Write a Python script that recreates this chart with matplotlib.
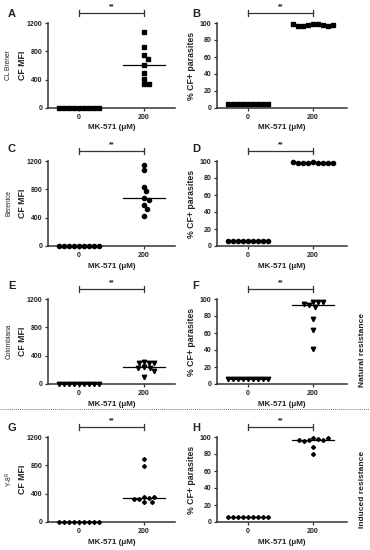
import matplotlib
matplotlib.use("Agg")
import matplotlib.pyplot as plt
import matplotlib.transforms as mtransforms
import numpy as np

plt.rcParams['font.family'] = ['Liberation Sans', 'DejaVu Sans']

# ---------------- data ----------------
doses = ['0', '200']
strains = ['CL Brener', 'Berenice', 'Colombiana', 'Y-8$^{\\mathrm{R}}$']
letters = ['A', 'B', 'C', 'D', 'E', 'F', 'G', 'H']

# CF MFI (left column)
mfi_clb_0 = [6, 5, 5, 6, 5, 5, 6, 5, 5]
mfi_clb_200 = [1068, 856, 744, 692, 612, 499, 414, 334, 336]
mfi_ber_0 = [6, 5, 5, 6, 5, 5, 6, 5, 5]
mfi_ber_200 = [1150, 1069, 836, 770, 672, 649, 584, 523, 420]
mfi_col_0 = [6, 5, 5, 6, 5, 5, 6, 5, 5]
mfi_col_200 = [315, 300, 295, 300, 240, 230, 225, 180, 100]
mfi_y8_0 = [6, 5, 5, 6, 5, 5, 6, 5, 5]
mfi_y8_200 = [895, 788, 360, 345, 330, 288, 285, 330, 355]

# % CF+ parasites (right column)
pct_clb_0 = [5.2, 5.0, 5.1, 5.0, 5.2, 5.1, 5.0, 5.2, 5.1]
pct_clb_200 = [99, 98.5, 98, 98, 97, 96, 97, 98, 98.5]
pct_ber_0 = [5.5, 5.4, 5.6, 5.5, 5.4, 5.5, 5.6, 5.5, 5.4]
pct_ber_200 = [98.5, 98, 98, 98, 98, 98, 98, 98, 98.5]
pct_col_0 = [5.5, 5.4, 5.6, 5.5, 5.4, 5.5, 5.6, 5.5, 5.4]
pct_col_200 = [96.5, 96, 93, 91, 94, 96, 76, 64, 41]
pct_y8_0 = [5.5, 5.4, 5.6, 5.5, 5.4, 5.5, 5.6, 5.5, 5.4]
pct_y8_200 = [99, 98, 96, 95.5, 96, 97, 99, 88, 80]

mfi_sets = [(mfi_clb_0, mfi_clb_200), (mfi_ber_0, mfi_ber_200),
            (mfi_col_0, mfi_col_200), (mfi_y8_0, mfi_y8_200)]
pct_sets = [(pct_clb_0, pct_clb_200), (pct_ber_0, pct_ber_200),
            (pct_col_0, pct_col_200), (pct_y8_0, pct_y8_200)]
markers = ['s', 'o', 'v', 'D']
msizes = [3.0, 3.0, 3.2, 2.0]

W, H = 370, 550
fig = plt.figure(figsize=(W / 100, H / 100), dpi=100)

row_top = [23, 161, 299, 437]
ax_h = 85
col_left = [48, 217]
col_w = [127, 130]
TXT = '#222222'


def swarm(vals, ymax, min_d=5.0):
    # simple beeswarm in pixel space
    ypx = np.array(vals, dtype=float) / ymax * ax_h
    placed = []
    xs = []
    cands = sorted(np.arange(-40, 40.5, 0.5), key=lambda v: (abs(v), -v))
    for y in ypx:
        for c in cands:
            if all((c - px) ** 2 + (y - py) ** 2 >= min_d ** 2 for px, py in placed):
                placed.append((c, y))
                xs.append(c)
                break
    return np.array(xs)


def panel(ax, data, ymax, yticks, marker, ms, ylabel, wpx):
    unit_px = 65.0  # pixels per category step
    for i, vals in enumerate(data):
        off = swarm(vals, ymax) / unit_px
        ax.plot(i + off, vals, linestyle='none', marker=marker, ms=ms,
                color='black', clip_on=False, zorder=3)
        med = np.median(vals)
        ax.plot([i - 0.33, i + 0.33], [med, med], color='black', lw=0.9,
                clip_on=False, zorder=2)
    ax.set_xlim(-0.477, (wpx - 31) / 65.0)
    ax.set_ylim(0, ymax)
    ax.set_yticks(yticks)
    ax.set_xticks([0, 1])
    ax.set_xticklabels(doses)
    for s in ['top', 'right']:
        ax.spines[s].set_visible(False)
    for s in ['left', 'bottom']:
        ax.spines[s].set_linewidth(1.1)
        ax.spines[s].set_color('#333333')
    ax.tick_params(length=2.5, width=0.9, labelsize=5, pad=1.5,
                   colors='#333333', labelcolor=TXT)
    for lab in ax.get_xticklabels() + ax.get_yticklabels():
        lab.set_fontweight('bold')
    ax.set_ylabel(ylabel, fontsize=6.3, fontweight='bold', color=TXT)
    ax.yaxis.set_label_coords(-21.0 / wpx, 0.5)
    ax.set_xlabel('MK-571 (\u03bcM)', fontsize=5.8, fontweight='bold', color=TXT)
    ax.xaxis.set_label_coords(0.5, -20.0 / ax_h)
    ax.xaxis.label.set_va('center')
    # significance bracket
    tr = mtransforms.blended_transform_factory(ax.transData, ax.transAxes)
    yb = 1 + 10.0 / ax_h
    tk = 3.0 / ax_h
    ax.plot([0, 1], [yb, yb], color='#333333', lw=0.9, transform=tr, clip_on=False)
    for xx in [0, 1]:
        ax.plot([xx, xx], [yb - tk, yb + tk], color='#333333', lw=0.9,
                transform=tr, clip_on=False)
    ax.text(0.5, yb + 6.0 / ax_h, '**', transform=tr, ha='center', va='center',
            fontsize=5, fontweight='bold', color=TXT)


for r in range(4):
    for c in range(2):
        l = col_left[c]
        w = col_w[c]
        ax = fig.add_axes([l / W, 1 - (row_top[r] + ax_h) / H, w / W, ax_h / H])
        if c == 0:
            panel(ax, mfi_sets[r], 1200, [0, 400, 800, 1200], markers[r], msizes[r],
                  'CF MFI', w)
        else:
            panel(ax, pct_sets[r], 100, [0, 20, 40, 60, 80, 100], markers[r], msizes[r],
                  '% CF+ parasites', w)
        lx = 8 if c == 0 else 192
        ly = [14, 149, 286, 428][r]
        fig.text(lx / W, 1 - ly / H, letters[2 * r + c], fontsize=8, fontweight='bold',
                 ha='left', va='center', color=TXT)
    fig.text(9 / W, 1 - (row_top[r] + ax_h / 2) / H, strains[r], rotation=90,
             fontsize=4.8, ha='center', va='center', color=TXT)

fig.text(362 / W, 1 - 350 / H, 'Natural resistance', rotation=90, fontsize=6,
         fontweight='bold', ha='center', va='center', color=TXT)
fig.text(362 / W, 1 - 489 / H, 'Induced resistance', rotation=90, fontsize=6,
         fontweight='bold', ha='center', va='center', color=TXT)

# dotted separator between the natural and induced resistance rows
fig.add_artist(plt.Line2D([0.0, 1.0], [1 - 409 / H, 1 - 409 / H], transform=fig.transFigure,
                          color='#777777', lw=0.7, linestyle=(0, (1, 1))))

fig.savefig('out.png', dpi=100, facecolor='white')
